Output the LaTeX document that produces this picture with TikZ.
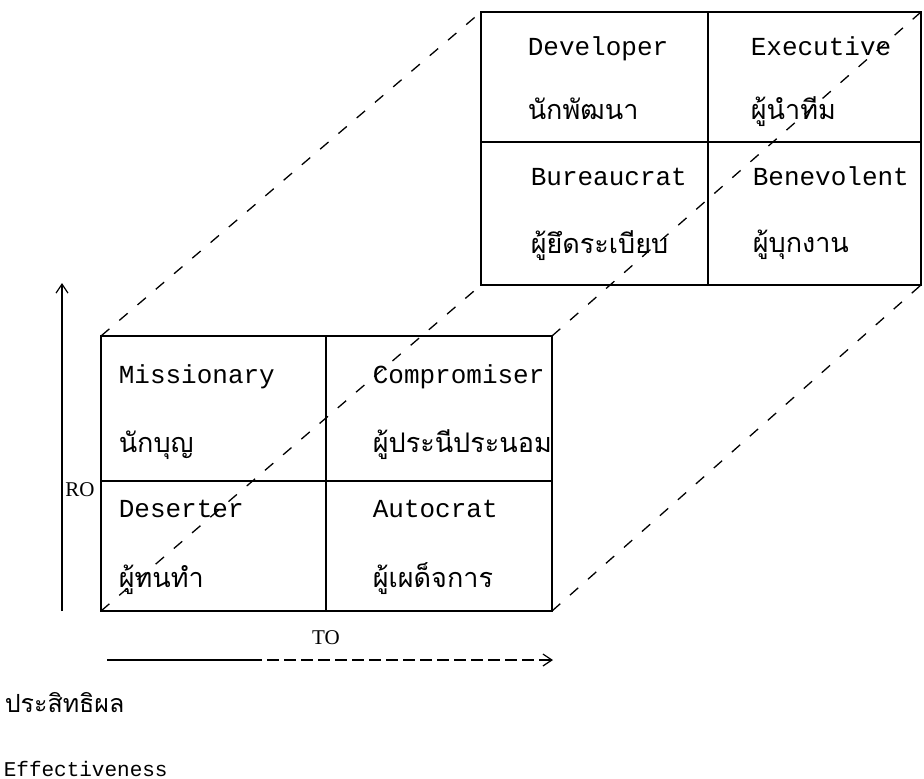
\documentclass[tikz,border=0pt]{standalone}
\usepackage{fontspec}
\setmainfont{Liberation Serif}
\newfontfamily\typefont{Liberation Mono}
\newfontfamily\thaifont[Script=Thai]{Loma}
\usetikzlibrary{arrows.meta, positioning}

\begin{document}
\begin{tikzpicture}[x=1pt, y=-1pt, >={Straight Barb[length=9pt, width=12pt]}, line width=1.6pt,
    eng/.style={anchor=base west, inner sep=0pt, font=\typefont\fontsize{26}{26}\selectfont},
    thai/.style={anchor=base west, inner sep=0pt, font=\thaifont\fontsize{27}{27}\selectfont},
    axis/.style={inner sep=0pt, font=\fontsize{21}{21}\selectfont},
    depth/.style={line width=1.3pt, dash pattern=on 11pt off 13pt}]

    \useasboundingbox (0,0) rectangle (924,779);

    % corners of the front and back faces
    \coordinate (fnw) at (101,336); \coordinate (fne) at (552,336);
    \coordinate (fsw) at (101,611); \coordinate (fse) at (552,611);
    \coordinate (bnw) at (481,12);  \coordinate (bne) at (921,12);
    \coordinate (bsw) at (481,285); \coordinate (bse) at (921,285);

    % the two 2x2 grids
    \draw (bnw) rectangle (bse) (708,12) -- (708,285) (481,142) -- (921,142);
    \draw (fnw) rectangle (fse) (326,336) -- (326,611) (101,481) -- (552,481);

    % receding edges
    \foreach \c in {nw,ne,sw,se}
        \draw[depth] (f\c) -- (b\c);

    % back face
    \node[eng]  (dev)   at (527,55)  {Developer};
    \node[thai] (devth) at (527,119) {นักพัฒนา};
    \node[eng]  (exe)   at (750,55)  {Executive};
    \node[thai] (exeth) at (750,119) {ผู้นำทีม};
    \node[eng]  (bur)   at (530,185) {Bureaucrat};
    \node[thai] (burth) at (530,253) {ผู้ยึดระเบียบ};
    \node[eng]  (ben)   at (752,185) {Benevolent};
    \node[thai] (benth) at (752,252) {ผู้บุกงาน};

    % front face
    \node[eng]  (mis)   at (118,383) {Missionary};
    \node[thai] (misth) at (118,452) {นักบุญ};
    \node[eng]  (com)   at (372,383) {Compromiser};
    \node[thai] (comth) at (372,452) {ผู้ประนีประนอม};
    \node[eng]  (des)   at (118,517) {Deserter};
    \node[thai] (desth) at (118,587) {ผู้ทนทำ};
    \node[eng]  (aut)   at (372,517) {Autocrat};
    \node[thai] (autth) at (372,587) {ผู้เผด็จการ};

    % RO and TO axes
    \coordinate (rolow) at (62,611); \coordinate (rotop) at (62,283);
    \draw[->, line width=1.2pt] (rolow) -- (rotop);
    \node[axis] (ro) at (80,490) {RO};

    \coordinate (tostart) at (107,660); \coordinate (tomid) at (250,660);
    \coordinate (toend) at (553,660);
    \draw[line width=1.2pt] (tostart) -- (tomid);
    \draw[->, line width=1.2pt, dash pattern=on 12pt off 5pt] (tomid) -- (toend);
    \node[axis] (to) at (326,638) {TO};

    \node[anchor=base west, inner sep=0pt, font=\thaifont\fontsize{25}{25}\selectfont] (effth) at (4,712) {ประสิทธิผล};
    \node[anchor=base west, inner sep=0pt, font=\typefont\fontsize{21}{21}\selectfont] (eff) at (3,776) {Effectiveness};
\end{tikzpicture}
\end{document}
